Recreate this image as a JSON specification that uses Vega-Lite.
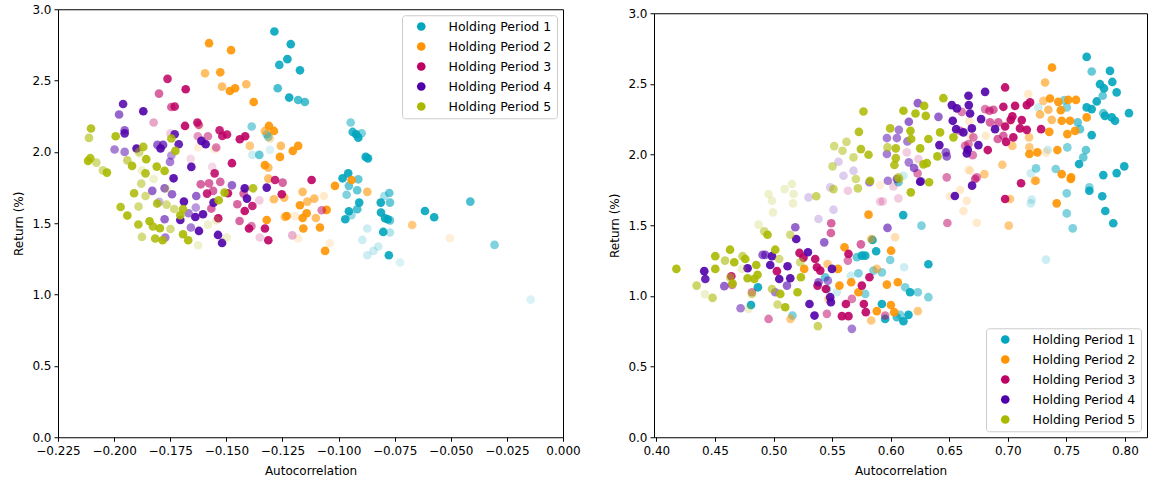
{
  "$schema": "https://vega.github.io/schema/vega-lite/v6.json",
  "background": "white",
  "padding": {"left": 12, "top": 2, "right": 5, "bottom": 5},
  "spacing": 27,
  "center": true,
  "config": {
    "font": "DejaVu Sans",
    "view": {"stroke": "#000", "strokeWidth": 1},
    "axis": {
      "grid": false, "domain": false, "tickColor": "#000", "tickSize": 4,
      "labelFont": "DejaVu Sans", "labelFontSize": 12, "labelColor": "#000", "labelPadding": 3,
      "labelFlush": false, "labelOverlap": false,
      "titleFont": "DejaVu Sans", "titleFontSize": 12, "titleFontWeight": "normal", "titleColor": "#000", "titlePadding": 6
    },
    "axisX": {"labelPadding": 4, "titlePadding": 9},
    "legend": {
      "title": null, "symbolType": "circle", "symbolSize": 75, "symbolOpacity": 1, "symbolStrokeWidth": 0,
      "labelFont": "DejaVu Sans", "labelFontSize": 12.5, "labelColor": "#000",
      "padding": 5, "rowPadding": 7, "offset": 6, "symbolOffset": 8, "labelOffset": 21,
      "strokeColor": "#cccccc", "fillColor": "rgba(255,255,255,0.85)", "cornerRadius": 3
    }
  },
  "datasets": {
    "left": [
      {"h":1,"x":-0.1286,"y":2.844,"a":0.9},{"h":1,"x":-0.1213,"y":2.755,"a":0.9},{"h":1,"x":-0.1228,"y":2.65,"a":0.9},{"h":1,"x":-0.1264,"y":2.61,"a":0.85},{"h":1,"x":-0.1172,"y":2.572,"a":0.9},{"h":1,"x":-0.1271,"y":2.446,"a":0.7},{"h":1,"x":-0.122,"y":2.381,"a":0.9},{"h":1,"x":-0.118,"y":2.364,"a":0.7},{"h":1,"x":-0.115,"y":2.35,"a":0.7},{"h":1,"x":-0.0946,"y":2.206,"a":0.5},{"h":1,"x":-0.0937,"y":2.14,"a":0.8},{"h":1,"x":-0.0922,"y":2.124,"a":0.9},{"h":1,"x":-0.0912,"y":2.1,"a":0.9},{"h":1,"x":-0.0897,"y":2.131,"a":0.5},{"h":1,"x":-0.0879,"y":1.965,"a":0.9},{"h":1,"x":-0.0869,"y":1.955,"a":0.9},{"h":1,"x":-0.0982,"y":1.815,"a":0.9},{"h":1,"x":-0.0957,"y":1.85,"a":0.9},{"h":1,"x":-0.0912,"y":1.808,"a":0.6},{"h":1,"x":-0.0954,"y":1.762,"a":0.6},{"h":1,"x":-0.0964,"y":1.7,"a":0.5},{"h":1,"x":-0.0917,"y":1.731,"a":0.6},{"h":1,"x":-0.0908,"y":1.645,"a":0.9},{"h":1,"x":-0.0917,"y":1.598,"a":0.7},{"h":1,"x":-0.0954,"y":1.584,"a":0.9},{"h":1,"x":-0.097,"y":1.528,"a":0.9},{"h":1,"x":-0.0943,"y":1.556,"a":0.4},{"h":1,"x":-0.0812,"y":1.645,"a":0.9},{"h":1,"x":-0.0774,"y":1.712,"a":0.6},{"h":1,"x":-0.0771,"y":1.645,"a":0.6},{"h":1,"x":-0.0796,"y":1.691,"a":0.35},{"h":1,"x":-0.0811,"y":1.575,"a":0.9},{"h":1,"x":-0.0793,"y":1.535,"a":0.9},{"h":1,"x":-0.0781,"y":1.528,"a":0.9},{"h":1,"x":-0.0771,"y":1.52,"a":0.6},{"h":1,"x":-0.0801,"y":1.439,"a":0.9},{"h":1,"x":-0.0771,"y":1.435,"a":0.3},{"h":1,"x":-0.0872,"y":1.463,"a":0.2},{"h":1,"x":-0.0894,"y":1.383,"a":0.2},{"h":1,"x":-0.0872,"y":1.276,"a":0.2},{"h":1,"x":-0.0845,"y":1.306,"a":0.2},{"h":1,"x":-0.0823,"y":1.337,"a":0.2},{"h":1,"x":-0.0776,"y":1.276,"a":0.9},{"h":1,"x":-0.0726,"y":1.225,"a":0.15},{"h":1,"x":-0.0615,"y":1.586,"a":0.9},{"h":1,"x":-0.0574,"y":1.542,"a":0.9},{"h":1,"x":-0.0413,"y":1.652,"a":0.7},{"h":1,"x":-0.0305,"y":1.348,"a":0.5},{"h":1,"x":-0.0144,"y":0.965,"a":0.15},{"h":1,"x":-0.1387,"y":2.178,"a":0.5},{"h":1,"x":-0.132,"y":2.124,"a":0.5},{"h":1,"x":-0.1313,"y":2.105,"a":0.5},{"h":1,"x":-0.1384,"y":1.979,"a":0.2},{"h":1,"x":-0.1353,"y":1.979,"a":0.6},{"h":1,"x":-0.1306,"y":2.014,"a":0.15},
      {"h":2,"x":-0.1577,"y":2.762,"a":0.9},{"h":2,"x":-0.1479,"y":2.713,"a":0.9},{"h":2,"x":-0.1595,"y":2.551,"a":0.6},{"h":2,"x":-0.1527,"y":2.558,"a":0.85},{"h":2,"x":-0.1519,"y":2.458,"a":0.6},{"h":2,"x":-0.1484,"y":2.427,"a":0.9},{"h":2,"x":-0.1461,"y":2.446,"a":0.9},{"h":2,"x":-0.1411,"y":2.474,"a":0.6},{"h":2,"x":-0.1378,"y":2.35,"a":0.9},{"h":2,"x":-0.1395,"y":2.042,"a":0.5},{"h":2,"x":-0.1619,"y":2.182,"a":0.15},{"h":2,"x":-0.1626,"y":2.031,"a":0.15},{"h":2,"x":-0.1552,"y":2.019,"a":0.15},{"h":2,"x":-0.131,"y":2.182,"a":0.9},{"h":2,"x":-0.1328,"y":2.147,"a":0.6},{"h":2,"x":-0.1288,"y":2.147,"a":0.9},{"h":2,"x":-0.1306,"y":2.094,"a":0.3},{"h":2,"x":-0.1257,"y":2.042,"a":0.6},{"h":2,"x":-0.1204,"y":2.007,"a":0.9},{"h":2,"x":-0.118,"y":2.042,"a":0.9},{"h":2,"x":-0.1261,"y":1.965,"a":0.9},{"h":2,"x":-0.1328,"y":1.907,"a":0.9},{"h":2,"x":-0.1313,"y":1.89,"a":0.6},{"h":2,"x":-0.1313,"y":1.813,"a":0.6},{"h":2,"x":-0.0942,"y":1.803,"a":0.9},{"h":2,"x":-0.1016,"y":1.762,"a":0.9},{"h":2,"x":-0.0872,"y":1.72,"a":0.6},{"h":2,"x":-0.116,"y":1.72,"a":0.6},{"h":2,"x":-0.1288,"y":1.668,"a":0.6},{"h":2,"x":-0.1242,"y":1.68,"a":0.6},{"h":2,"x":-0.1108,"y":1.673,"a":0.6},{"h":2,"x":-0.1066,"y":1.691,"a":0.2},{"h":2,"x":-0.1139,"y":1.652,"a":0.6},{"h":2,"x":-0.1172,"y":1.626,"a":0.9},{"h":2,"x":-0.1053,"y":1.594,"a":0.9},{"h":2,"x":-0.1142,"y":1.57,"a":0.9},{"h":2,"x":-0.1231,"y":1.551,"a":0.9},{"h":2,"x":-0.116,"y":1.537,"a":0.9},{"h":2,"x":-0.1101,"y":1.537,"a":0.6},{"h":2,"x":-0.1239,"y":1.545,"a":0.6},{"h":2,"x":-0.132,"y":1.523,"a":0.9},{"h":2,"x":-0.1194,"y":1.55,"a":0.15},{"h":2,"x":-0.1083,"y":1.47,"a":0.9},{"h":2,"x":-0.1157,"y":1.463,"a":0.9},{"h":2,"x":-0.1039,"y":1.36,"a":0.15},{"h":2,"x":-0.106,"y":1.306,"a":0.9},{"h":2,"x":-0.118,"y":1.393,"a":0.15},{"h":2,"x":-0.0672,"y":1.488,"a":0.5},{"h":2,"x":-0.0504,"y":1.395,"a":0.15},
      {"h":3,"x":-0.1762,"y":2.512,"a":0.85},{"h":3,"x":-0.1681,"y":2.439,"a":0.9},{"h":3,"x":-0.18,"y":2.409,"a":0.6},{"h":3,"x":-0.1745,"y":2.315,"a":0.6},{"h":3,"x":-0.173,"y":2.318,"a":0.85},{"h":3,"x":-0.1824,"y":2.206,"a":0.35},{"h":3,"x":-0.1684,"y":2.182,"a":0.9},{"h":3,"x":-0.1629,"y":2.206,"a":0.85},{"h":3,"x":-0.1623,"y":2.19,"a":0.6},{"h":3,"x":-0.153,"y":2.152,"a":0.85},{"h":3,"x":-0.1518,"y":2.112,"a":0.85},{"h":3,"x":-0.1497,"y":2.122,"a":0.85},{"h":3,"x":-0.144,"y":2.089,"a":0.9},{"h":3,"x":-0.1416,"y":2.11,"a":0.9},{"h":3,"x":-0.1582,"y":2.11,"a":0.5},{"h":3,"x":-0.1627,"y":2.11,"a":0.4},{"h":3,"x":-0.1545,"y":2.031,"a":0.5},{"h":3,"x":-0.1749,"y":2.13,"a":0.2},{"h":3,"x":-0.1475,"y":1.921,"a":0.9},{"h":3,"x":-0.1552,"y":1.85,"a":0.85},{"h":3,"x":-0.1563,"y":1.895,"a":0.15},{"h":3,"x":-0.1614,"y":1.773,"a":0.6},{"h":3,"x":-0.1577,"y":1.78,"a":0.6},{"h":3,"x":-0.1527,"y":1.79,"a":0.6},{"h":3,"x":-0.1559,"y":1.727,"a":0.6},{"h":3,"x":-0.1586,"y":1.708,"a":0.85},{"h":3,"x":-0.1493,"y":1.71,"a":0.9},{"h":3,"x":-0.1423,"y":1.708,"a":0.6},{"h":3,"x":-0.1567,"y":1.603,"a":0.6},{"h":3,"x":-0.1536,"y":1.535,"a":0.9},{"h":3,"x":-0.1451,"y":1.633,"a":0.6},{"h":3,"x":-0.1441,"y":1.516,"a":0.6},{"h":3,"x":-0.1418,"y":1.586,"a":0.9},{"h":3,"x":-0.1399,"y":1.463,"a":0.9},{"h":3,"x":-0.1384,"y":1.621,"a":0.85},{"h":3,"x":-0.1659,"y":1.951,"a":0.15},{"h":3,"x":-0.1388,"y":1.48,"a":0.5},{"h":3,"x":-0.1283,"y":1.803,"a":0.85},{"h":3,"x":-0.1249,"y":1.785,"a":0.6},{"h":3,"x":-0.112,"y":1.803,"a":0.9},{"h":3,"x":-0.1253,"y":1.703,"a":0.9},{"h":3,"x":-0.1328,"y":1.463,"a":0.9},{"h":3,"x":-0.1313,"y":1.381,"a":0.9},{"h":3,"x":-0.1075,"y":1.591,"a":0.5},{"h":3,"x":-0.1351,"y":1.4,"a":0.2},{"h":3,"x":-0.1206,"y":1.415,"a":0.3},{"h":3,"x":-0.1353,"y":1.66,"a":0.2},
      {"h":4,"x":-0.196,"y":2.336,"a":0.85},{"h":4,"x":-0.1978,"y":2.262,"a":0.6},{"h":4,"x":-0.187,"y":2.285,"a":0.9},{"h":4,"x":-0.1953,"y":2.152,"a":0.6},{"h":4,"x":-0.1953,"y":2.13,"a":0.85},{"h":4,"x":-0.173,"y":2.124,"a":0.85},{"h":4,"x":-0.19,"y":2.024,"a":0.9},{"h":4,"x":-0.1782,"y":2.049,"a":0.7},{"h":4,"x":-0.1807,"y":2.049,"a":0.6},{"h":4,"x":-0.1793,"y":2.024,"a":0.9},{"h":4,"x":-0.1712,"y":2.054,"a":0.85},{"h":4,"x":-0.1611,"y":2.077,"a":0.9},{"h":4,"x":-0.1592,"y":2.054,"a":0.9},{"h":4,"x":-0.1998,"y":2.017,"a":0.5},{"h":4,"x":-0.1953,"y":2.0,"a":0.5},{"h":4,"x":-0.1745,"y":1.975,"a":0.4},{"h":4,"x":-0.1656,"y":1.895,"a":0.9},{"h":4,"x":-0.1735,"y":1.815,"a":0.9},{"h":4,"x":-0.1751,"y":1.93,"a":0.5},{"h":4,"x":-0.183,"y":1.727,"a":0.6},{"h":4,"x":-0.1775,"y":1.745,"a":0.6},{"h":4,"x":-0.1742,"y":1.703,"a":0.6},{"h":4,"x":-0.1689,"y":1.652,"a":0.9},{"h":4,"x":-0.1634,"y":1.691,"a":0.6},{"h":4,"x":-0.1775,"y":1.528,"a":0.6},{"h":4,"x":-0.1705,"y":1.523,"a":0.9},{"h":4,"x":-0.1668,"y":1.57,"a":0.5},{"h":4,"x":-0.1604,"y":1.563,"a":0.9},{"h":4,"x":-0.1638,"y":1.544,"a":0.9},{"h":4,"x":-0.1658,"y":1.47,"a":0.5},{"h":4,"x":-0.1622,"y":1.446,"a":0.9},{"h":4,"x":-0.1537,"y":1.418,"a":0.9},{"h":4,"x":-0.1519,"y":1.362,"a":0.9},{"h":4,"x":-0.1799,"y":1.65,"a":0.3},{"h":4,"x":-0.1475,"y":1.766,"a":0.6},{"h":4,"x":-0.1418,"y":1.745,"a":0.9},{"h":4,"x":-0.1408,"y":1.673,"a":0.9},{"h":4,"x":-0.1557,"y":1.645,"a":0.9},{"h":4,"x":-0.1772,"y":1.4,"a":0.5},{"h":4,"x":-0.1636,"y":1.61,"a":0.4},{"h":4,"x":-0.132,"y":1.75,"a":0.9},
      {"h":5,"x":-0.2103,"y":2.164,"a":0.85},{"h":5,"x":-0.2112,"y":2.098,"a":0.6},{"h":5,"x":-0.1993,"y":2.11,"a":0.9},{"h":5,"x":-0.1745,"y":2.094,"a":0.85},{"h":5,"x":-0.1727,"y":2.007,"a":0.9},{"h":5,"x":-0.187,"y":2.035,"a":0.85},{"h":5,"x":-0.1887,"y":1.99,"a":0.2},{"h":5,"x":-0.1889,"y":2.0,"a":0.4},{"h":5,"x":-0.2106,"y":1.956,"a":0.85},{"h":5,"x":-0.2116,"y":1.937,"a":0.9},{"h":5,"x":-0.2079,"y":1.925,"a":0.5},{"h":5,"x":-0.205,"y":1.871,"a":0.5},{"h":5,"x":-0.2032,"y":1.855,"a":0.9},{"h":5,"x":-0.1941,"y":1.941,"a":0.6},{"h":5,"x":-0.192,"y":1.902,"a":0.9},{"h":5,"x":-0.1857,"y":1.949,"a":0.9},{"h":5,"x":-0.186,"y":1.85,"a":0.85},{"h":5,"x":-0.181,"y":1.897,"a":0.9},{"h":5,"x":-0.1775,"y":1.867,"a":0.9},{"h":5,"x":-0.1879,"y":1.778,"a":0.5},{"h":5,"x":-0.1911,"y":1.71,"a":0.85},{"h":5,"x":-0.186,"y":1.691,"a":0.5},{"h":5,"x":-0.1808,"y":1.638,"a":0.85},{"h":5,"x":-0.1971,"y":1.614,"a":0.85},{"h":5,"x":-0.1891,"y":1.617,"a":0.5},{"h":5,"x":-0.1941,"y":1.554,"a":0.9},{"h":5,"x":-0.1842,"y":1.514,"a":0.9},{"h":5,"x":-0.1892,"y":1.491,"a":0.85},{"h":5,"x":-0.1827,"y":1.477,"a":0.85},{"h":5,"x":-0.1796,"y":1.465,"a":0.9},{"h":5,"x":-0.1749,"y":1.46,"a":0.5},{"h":5,"x":-0.1876,"y":1.404,"a":0.5},{"h":5,"x":-0.1817,"y":1.393,"a":0.85},{"h":5,"x":-0.1784,"y":1.381,"a":0.9},{"h":5,"x":-0.1693,"y":1.423,"a":0.9},{"h":5,"x":-0.167,"y":1.381,"a":0.9},{"h":5,"x":-0.1626,"y":1.346,"a":0.2},{"h":5,"x":-0.1766,"y":1.63,"a":0.5},{"h":5,"x":-0.1732,"y":1.6,"a":0.5},{"h":5,"x":-0.1705,"y":1.556,"a":0.9},{"h":5,"x":-0.1693,"y":1.6,"a":0.85},{"h":5,"x":-0.1534,"y":1.661,"a":0.9},{"h":5,"x":-0.1508,"y":1.715,"a":0.9},{"h":5,"x":-0.1381,"y":1.745,"a":0.85},{"h":5,"x":-0.1544,"y":1.52,"a":0.2},{"h":5,"x":-0.1499,"y":1.4,"a":0.2},{"h":5,"x":-0.1582,"y":1.49,"a":0.2},{"h":5,"x":-0.1824,"y":1.81,"a":0.2},{"h":5,"x":-0.1766,"y":1.74,"a":0.2},{"h":5,"x":-0.1876,"y":1.87,"a":0.2}
    ],
    "right": [
      {"h":1,"x":0.4808,"y":0.936,"a":0.9},{"h":1,"x":0.4867,"y":1.061,"a":0.9},{"h":1,"x":0.5162,"y":0.861,"a":0.5},{"h":1,"x":0.5441,"y":1.132,"a":0.6},{"h":1,"x":0.5456,"y":1.049,"a":0.5},{"h":1,"x":0.5725,"y":1.16,"a":0.5},{"h":1,"x":0.5754,"y":1.285,"a":0.9},{"h":1,"x":0.5783,"y":1.285,"a":0.9},{"h":1,"x":0.5712,"y":1.274,"a":0.6},{"h":1,"x":0.5876,"y":1.316,"a":0.9},{"h":1,"x":0.5845,"y":1.396,"a":0.9},{"h":1,"x":0.5996,"y":1.254,"a":0.5},{"h":1,"x":0.6107,"y":1.572,"a":0.9},{"h":1,"x":0.5853,"y":1.179,"a":0.5},{"h":1,"x":0.5925,"y":1.167,"a":0.5},{"h":1,"x":0.5783,"y":1.014,"a":0.5},{"h":1,"x":0.5925,"y":0.943,"a":0.9},{"h":1,"x":0.5953,"y":0.837,"a":0.9},{"h":1,"x":0.6053,"y":0.849,"a":0.7},{"h":1,"x":0.566,"y":1.143,"a":0.2},{"h":1,"x":0.5541,"y":1.026,"a":0.2},{"h":1,"x":0.6263,"y":1.497,"a":0.5},{"h":1,"x":0.6322,"y":1.224,"a":0.9},{"h":1,"x":0.6322,"y":0.991,"a":0.5},{"h":1,"x":0.6166,"y":1.026,"a":0.9},{"h":1,"x":0.6232,"y":1.026,"a":0.5},{"h":1,"x":0.6124,"y":1.061,"a":0.5},{"h":1,"x":0.6152,"y":0.866,"a":0.9},{"h":1,"x":0.6109,"y":0.821,"a":0.9},{"h":1,"x":0.6081,"y":0.866,"a":0.5},{"h":1,"x":0.6115,"y":1.203,"a":0.2},{"h":1,"x":0.7503,"y":1.726,"a":0.5},{"h":1,"x":0.7696,"y":1.744,"a":0.9},{"h":1,"x":0.7806,"y":1.705,"a":0.9},{"h":1,"x":0.7503,"y":1.584,"a":0.5},{"h":1,"x":0.7554,"y":1.478,"a":0.5},{"h":1,"x":0.7832,"y":1.601,"a":0.9},{"h":1,"x":0.79,"y":1.514,"a":0.9},{"h":1,"x":0.7326,"y":1.257,"a":0.2},{"h":1,"x":0.7204,"y":1.681,"a":0.2},{"h":1,"x":0.7196,"y":1.655,"a":0.2},{"h":1,"x":0.6066,"y":1.804,"a":0.6},{"h":1,"x":0.7673,"y":2.691,"a":0.9},{"h":1,"x":0.7716,"y":2.588,"a":0.6},{"h":1,"x":0.7872,"y":2.592,"a":0.9},{"h":1,"x":0.7892,"y":2.514,"a":0.9},{"h":1,"x":0.7787,"y":2.498,"a":0.9},{"h":1,"x":0.7821,"y":2.468,"a":0.9},{"h":1,"x":0.7929,"y":2.44,"a":0.9},{"h":1,"x":0.7759,"y":2.376,"a":0.9},{"h":1,"x":0.781,"y":2.416,"a":0.6},{"h":1,"x":0.7716,"y":2.322,"a":0.9},{"h":1,"x":0.7673,"y":2.334,"a":0.9},{"h":1,"x":0.7829,"y":2.274,"a":0.9},{"h":1,"x":0.7887,"y":2.263,"a":0.9},{"h":1,"x":0.7915,"y":2.239,"a":0.9},{"h":1,"x":0.7815,"y":2.293,"a":0.6},{"h":1,"x":0.8034,"y":2.293,"a":0.9},{"h":1,"x":0.7597,"y":2.228,"a":0.6},{"h":1,"x":0.7616,"y":2.18,"a":0.6},{"h":1,"x":0.7482,"y":2.385,"a":0.5},{"h":1,"x":0.7503,"y":2.334,"a":0.5},{"h":1,"x":0.7261,"y":2.334,"a":0.2},{"h":1,"x":0.7716,"y":2.138,"a":0.9},{"h":1,"x":0.7667,"y":2.032,"a":0.6},{"h":1,"x":0.7644,"y":1.98,"a":0.6},{"h":1,"x":0.7608,"y":1.933,"a":0.9},{"h":1,"x":0.7508,"y":2.051,"a":0.5},{"h":1,"x":0.7815,"y":1.855,"a":0.9},{"h":1,"x":0.7929,"y":1.869,"a":0.9},{"h":1,"x":0.7994,"y":1.917,"a":0.9},{"h":1,"x":0.7409,"y":1.898,"a":0.5},{"h":1,"x":0.7241,"y":1.902,"a":0.5},{"h":1,"x":0.7196,"y":1.867,"a":0.2},{"h":1,"x":0.7341,"y":2.034,"a":0.2},{"h":1,"x":0.7696,"y":1.768,"a":0.5},{"h":1,"x":0.6109,"y":1.85,"a":0.2},
      {"h":2,"x":0.5262,"y":1.191,"a":0.9},{"h":2,"x":0.5461,"y":1.226,"a":0.5},{"h":2,"x":0.555,"y":1.191,"a":0.9},{"h":2,"x":0.5606,"y":1.344,"a":0.9},{"h":2,"x":0.5563,"y":1.073,"a":0.9},{"h":2,"x":0.5663,"y":1.097,"a":0.9},{"h":2,"x":0.5725,"y":1.026,"a":0.9},{"h":2,"x":0.5811,"y":1.575,"a":0.9},{"h":2,"x":0.5834,"y":1.403,"a":0.5},{"h":2,"x":0.6004,"y":1.32,"a":0.9},{"h":2,"x":0.5968,"y":1.08,"a":0.9},{"h":2,"x":0.6002,"y":0.936,"a":0.9},{"h":2,"x":0.5834,"y":0.826,"a":0.5},{"h":2,"x":0.5882,"y":0.892,"a":0.9},{"h":2,"x":0.6038,"y":1.415,"a":0.3},{"h":2,"x":0.603,"y":0.885,"a":0.9},{"h":2,"x":0.5145,"y":0.837,"a":0.5},{"h":2,"x":0.547,"y":0.979,"a":0.5},{"h":2,"x":0.5882,"y":1.191,"a":0.5},{"h":2,"x":0.7232,"y":1.815,"a":0.6},{"h":2,"x":0.7537,"y":1.827,"a":0.9},{"h":2,"x":0.7417,"y":1.655,"a":0.9},{"h":2,"x":0.7008,"y":1.497,"a":0.5},{"h":2,"x":0.7019,"y":1.686,"a":0.5},{"h":2,"x":0.6061,"y":1.097,"a":0.9},{"h":2,"x":0.6232,"y":0.892,"a":0.5},{"h":2,"x":0.6593,"y":1.749,"a":0.2},{"h":2,"x":0.665,"y":1.673,"a":0.2},{"h":2,"x":0.6621,"y":1.601,"a":0.2},{"h":2,"x":0.6735,"y":1.518,"a":0.2},{"h":2,"x":0.6507,"y":1.705,"a":0.2},{"h":2,"x":0.7377,"y":2.616,"a":0.9},{"h":2,"x":0.7318,"y":2.51,"a":0.6},{"h":2,"x":0.736,"y":2.397,"a":0.9},{"h":2,"x":0.7431,"y":2.373,"a":0.9},{"h":2,"x":0.7516,"y":2.387,"a":0.9},{"h":2,"x":0.7582,"y":2.387,"a":0.9},{"h":2,"x":0.7452,"y":2.314,"a":0.9},{"h":2,"x":0.7303,"y":2.38,"a":0.5},{"h":2,"x":0.7346,"y":2.317,"a":0.6},{"h":2,"x":0.7275,"y":2.284,"a":0.6},{"h":2,"x":0.746,"y":2.239,"a":0.9},{"h":2,"x":0.7531,"y":2.239,"a":0.9},{"h":2,"x":0.7375,"y":2.246,"a":0.6},{"h":2,"x":0.7574,"y":2.168,"a":0.9},{"h":2,"x":0.7508,"y":2.145,"a":0.9},{"h":2,"x":0.7354,"y":2.161,"a":0.9},{"h":2,"x":0.7673,"y":2.263,"a":0.9},{"h":2,"x":0.7181,"y":2.122,"a":0.5},{"h":2,"x":0.7423,"y":2.032,"a":0.9},{"h":2,"x":0.7252,"y":2.016,"a":0.9},{"h":2,"x":0.7184,"y":2.004,"a":0.9},{"h":2,"x":0.7184,"y":2.051,"a":0.5},{"h":2,"x":0.7326,"y":2.016,"a":0.2},{"h":2,"x":0.6953,"y":1.928,"a":0.5},{"h":2,"x":0.746,"y":1.862,"a":0.9},{"h":2,"x":0.754,"y":1.839,"a":0.9},{"h":2,"x":0.7241,"y":1.815,"a":0.5},{"h":2,"x":0.68,"y":1.862,"a":0.5},{"h":2,"x":0.7039,"y":2.062,"a":0.5},{"h":2,"x":0.7175,"y":2.428,"a":0.2},{"h":2,"x":0.7019,"y":2.239,"a":0.2},{"h":2,"x":0.667,"y":2.235,"a":0.2},{"h":2,"x":0.6812,"y":2.133,"a":0.2},{"h":2,"x":0.6678,"y":1.886,"a":0.2},{"h":2,"x":0.591,"y":1.784,"a":0.15},{"h":2,"x":0.6664,"y":1.893,"a":0.15},{"h":2,"x":0.6678,"y":2.133,"a":0.15},
      {"h":3,"x":0.464,"y":1.139,"a":0.85},{"h":3,"x":0.4646,"y":1.078,"a":0.5},{"h":3,"x":0.4816,"y":1.026,"a":0.5},{"h":3,"x":0.5029,"y":1.175,"a":0.9},{"h":3,"x":0.5222,"y":1.304,"a":0.9},{"h":3,"x":0.5256,"y":1.271,"a":0.9},{"h":3,"x":0.5356,"y":1.261,"a":0.9},{"h":3,"x":0.5399,"y":1.179,"a":0.9},{"h":3,"x":0.5376,"y":1.073,"a":0.9},{"h":3,"x":0.5447,"y":1.049,"a":0.9},{"h":3,"x":0.5493,"y":1.514,"a":0.6},{"h":3,"x":0.549,"y":1.445,"a":0.6},{"h":3,"x":0.564,"y":1.297,"a":0.9},{"h":3,"x":0.5635,"y":1.25,"a":0.5},{"h":3,"x":0.5754,"y":1.073,"a":0.9},{"h":3,"x":0.5819,"y":1.132,"a":0.9},{"h":3,"x":0.5771,"y":0.943,"a":0.9},{"h":3,"x":0.5788,"y":0.885,"a":0.9},{"h":3,"x":0.5618,"y":0.943,"a":0.9},{"h":3,"x":0.5584,"y":0.857,"a":0.9},{"h":3,"x":0.564,"y":0.857,"a":0.9},{"h":3,"x":0.5456,"y":0.873,"a":0.5},{"h":3,"x":0.4958,"y":0.837,"a":0.5},{"h":3,"x":0.5371,"y":1.203,"a":0.9},{"h":3,"x":0.5635,"y":1.744,"a":0.2},{"h":3,"x":0.5746,"y":1.365,"a":0.6},{"h":3,"x":0.5669,"y":0.979,"a":0.5},{"h":3,"x":0.5933,"y":1.669,"a":0.2},{"h":3,"x":0.6977,"y":1.686,"a":0.9},{"h":3,"x":0.7113,"y":1.797,"a":0.9},{"h":3,"x":0.6484,"y":1.516,"a":0.5},{"h":3,"x":0.6721,"y":1.827,"a":0.6},{"h":3,"x":0.6066,"y":1.69,"a":0.2},{"h":3,"x":0.591,"y":1.667,"a":0.2},{"h":3,"x":0.6024,"y":1.775,"a":0.2},{"h":3,"x":0.5953,"y":0.861,"a":0.5},{"h":3,"x":0.6607,"y":2.302,"a":0.5},{"h":3,"x":0.6664,"y":2.074,"a":0.5},{"h":3,"x":0.6706,"y":2.122,"a":0.5},{"h":3,"x":0.6701,"y":1.996,"a":0.5},{"h":3,"x":0.623,"y":1.867,"a":0.5},{"h":3,"x":0.6479,"y":1.839,"a":0.5},{"h":3,"x":0.6735,"y":1.839,"a":0.5},{"h":3,"x":0.6237,"y":1.968,"a":0.2},{"h":3,"x":0.6138,"y":2.016,"a":0.2},{"h":3,"x":0.6977,"y":2.475,"a":0.9},{"h":3,"x":0.719,"y":2.369,"a":0.9},{"h":3,"x":0.7162,"y":2.35,"a":0.9},{"h":3,"x":0.7062,"y":2.345,"a":0.9},{"h":3,"x":0.6962,"y":2.338,"a":0.9},{"h":3,"x":0.6877,"y":2.317,"a":0.6},{"h":3,"x":0.6843,"y":2.31,"a":0.6},{"h":3,"x":0.7039,"y":2.27,"a":0.9},{"h":3,"x":0.7025,"y":2.246,"a":0.9},{"h":3,"x":0.7119,"y":2.244,"a":0.9},{"h":3,"x":0.7104,"y":2.185,"a":0.9},{"h":3,"x":0.7162,"y":2.175,"a":0.9},{"h":3,"x":0.6977,"y":2.199,"a":0.9},{"h":3,"x":0.7284,"y":2.18,"a":0.9},{"h":3,"x":0.7047,"y":2.122,"a":0.9},{"h":3,"x":0.6962,"y":2.133,"a":0.6},{"h":3,"x":0.6914,"y":2.11,"a":0.6},{"h":3,"x":0.6919,"y":2.228,"a":0.6},{"h":3,"x":0.6848,"y":2.228,"a":0.6},{"h":3,"x":0.6829,"y":2.032,"a":0.9},{"h":3,"x":0.6635,"y":2.062,"a":0.5},{"h":3,"x":0.6593,"y":2.168,"a":0.5},{"h":3,"x":0.6806,"y":2.322,"a":0.5},{"h":3,"x":0.6985,"y":2.09,"a":0.9},
      {"h":4,"x":0.4409,"y":1.175,"a":0.9},{"h":4,"x":0.4418,"y":1.12,"a":0.85},{"h":4,"x":0.458,"y":1.069,"a":0.6},{"h":4,"x":0.4779,"y":1.196,"a":0.9},{"h":4,"x":0.4907,"y":1.29,"a":0.6},{"h":4,"x":0.493,"y":1.29,"a":0.6},{"h":4,"x":0.4972,"y":1.219,"a":0.9},{"h":4,"x":0.4987,"y":1.281,"a":0.9},{"h":4,"x":0.5049,"y":1.12,"a":0.9},{"h":4,"x":0.512,"y":1.21,"a":0.9},{"h":4,"x":0.5143,"y":1.125,"a":0.9},{"h":4,"x":0.5115,"y":1.073,"a":0.6},{"h":4,"x":0.5186,"y":1.486,"a":0.6},{"h":4,"x":0.5194,"y":1.403,"a":0.9},{"h":4,"x":0.5294,"y":1.309,"a":0.9},{"h":4,"x":0.5015,"y":1.026,"a":0.5},{"h":4,"x":0.5307,"y":0.943,"a":0.9},{"h":4,"x":0.535,"y":0.861,"a":0.9},{"h":4,"x":0.5384,"y":1.097,"a":0.6},{"h":4,"x":0.5433,"y":1.379,"a":0.6},{"h":4,"x":0.5484,"y":0.991,"a":0.9},{"h":4,"x":0.549,"y":0.955,"a":0.9},{"h":4,"x":0.5499,"y":1.191,"a":0.9},{"h":4,"x":0.5464,"y":1.108,"a":0.5},{"h":4,"x":0.5384,"y":1.544,"a":0.2},{"h":4,"x":0.5512,"y":1.61,"a":0.2},{"h":4,"x":0.5299,"y":1.697,"a":0.2},{"h":4,"x":0.4719,"y":0.913,"a":0.5},{"h":4,"x":0.5669,"y":0.767,"a":0.5},{"h":4,"x":0.5973,"y":1.481,"a":0.6},{"h":4,"x":0.6053,"y":1.827,"a":0.6},{"h":4,"x":0.6548,"y":1.707,"a":0.9},{"h":4,"x":0.6695,"y":1.78,"a":0.9},{"h":4,"x":0.6258,"y":1.811,"a":0.6},{"h":4,"x":0.6232,"y":2.364,"a":0.6},{"h":4,"x":0.6155,"y":2.232,"a":0.6},{"h":4,"x":0.607,"y":2.175,"a":0.5},{"h":4,"x":0.5968,"y":2.117,"a":0.5},{"h":4,"x":0.6053,"y":2.117,"a":0.5},{"h":4,"x":0.6143,"y":2.093,"a":0.5},{"h":4,"x":0.5968,"y":2.004,"a":0.5},{"h":4,"x":0.6155,"y":1.945,"a":0.5},{"h":4,"x":0.62,"y":1.905,"a":0.6},{"h":4,"x":0.6408,"y":2.267,"a":0.6},{"h":4,"x":0.6522,"y":2.35,"a":0.9},{"h":4,"x":0.6664,"y":2.416,"a":0.9},{"h":4,"x":0.6565,"y":2.327,"a":0.9},{"h":4,"x":0.6667,"y":2.35,"a":0.9},{"h":4,"x":0.653,"y":2.239,"a":0.9},{"h":4,"x":0.6559,"y":2.18,"a":0.9},{"h":4,"x":0.6621,"y":2.157,"a":0.9},{"h":4,"x":0.6693,"y":2.185,"a":0.9},{"h":4,"x":0.6416,"y":2.067,"a":0.9},{"h":4,"x":0.6471,"y":2.016,"a":0.6},{"h":4,"x":0.6658,"y":2.034,"a":0.9},{"h":4,"x":0.665,"y":2.008,"a":0.9},{"h":4,"x":0.6479,"y":1.987,"a":0.6},{"h":4,"x":0.6749,"y":2.067,"a":0.9},{"h":4,"x":0.5976,"y":1.815,"a":0.5},{"h":4,"x":0.6252,"y":1.808,"a":0.9},{"h":4,"x":0.5819,"y":1.804,"a":0.5},{"h":4,"x":0.5597,"y":1.85,"a":0.2},{"h":4,"x":0.5683,"y":1.886,"a":0.2},{"h":4,"x":0.5555,"y":1.949,"a":0.2},{"h":4,"x":0.5484,"y":1.768,"a":0.2},{"h":4,"x":0.6806,"y":2.444,"a":0.9},{"h":4,"x":0.6678,"y":2.291,"a":0.9},{"h":4,"x":0.6772,"y":2.251,"a":0.9},{"h":4,"x":0.6891,"y":2.18,"a":0.9},
      {"h":5,"x":0.4171,"y":1.191,"a":0.9},{"h":5,"x":0.4344,"y":1.073,"a":0.6},{"h":5,"x":0.4415,"y":1.012,"a":0.2},{"h":5,"x":0.448,"y":0.986,"a":0.6},{"h":5,"x":0.4503,"y":1.281,"a":0.9},{"h":5,"x":0.4503,"y":1.191,"a":0.9},{"h":5,"x":0.4586,"y":1.25,"a":0.6},{"h":5,"x":0.4629,"y":1.327,"a":0.9},{"h":5,"x":0.4665,"y":1.238,"a":0.9},{"h":5,"x":0.4631,"y":1.129,"a":0.5},{"h":5,"x":0.4651,"y":1.087,"a":0.9},{"h":5,"x":0.4736,"y":1.281,"a":0.6},{"h":5,"x":0.4759,"y":1.261,"a":0.9},{"h":5,"x":0.4779,"y":1.125,"a":0.9},{"h":5,"x":0.4836,"y":1.12,"a":0.9},{"h":5,"x":0.4853,"y":1.219,"a":0.9},{"h":5,"x":0.4864,"y":1.15,"a":0.9},{"h":5,"x":0.4731,"y":1.191,"a":0.2},{"h":5,"x":0.4816,"y":1.014,"a":0.5},{"h":5,"x":0.4949,"y":1.433,"a":0.9},{"h":5,"x":0.4921,"y":1.457,"a":0.5},{"h":5,"x":0.5015,"y":1.327,"a":0.9},{"h":5,"x":0.5049,"y":1.261,"a":0.5},{"h":5,"x":0.4987,"y":1.049,"a":0.6},{"h":5,"x":0.5058,"y":1.014,"a":0.9},{"h":5,"x":0.51,"y":0.92,"a":0.9},{"h":5,"x":0.5035,"y":0.939,"a":0.5},{"h":5,"x":0.5205,"y":1.026,"a":0.9},{"h":5,"x":0.5234,"y":1.132,"a":0.9},{"h":5,"x":0.5228,"y":1.238,"a":0.5},{"h":5,"x":0.5143,"y":1.433,"a":0.5},{"h":5,"x":0.5379,"y":0.786,"a":0.6},{"h":5,"x":0.4958,"y":1.721,"a":0.2},{"h":5,"x":0.4987,"y":1.673,"a":0.2},{"h":5,"x":0.4995,"y":1.591,"a":0.2},{"h":5,"x":0.4873,"y":1.504,"a":0.2},{"h":5,"x":0.5094,"y":1.756,"a":0.2},{"h":5,"x":0.5157,"y":1.792,"a":0.2},{"h":5,"x":0.5171,"y":1.721,"a":0.2},{"h":5,"x":0.5166,"y":1.655,"a":0.2},{"h":5,"x":0.5365,"y":1.705,"a":0.6},{"h":5,"x":0.5512,"y":1.756,"a":0.6},{"h":5,"x":0.572,"y":1.761,"a":0.6},{"h":5,"x":0.4787,"y":0.908,"a":0.2},{"h":5,"x":0.6172,"y":1.733,"a":0.9},{"h":5,"x":0.6328,"y":1.804,"a":0.9},{"h":5,"x":0.6072,"y":1.827,"a":0.6},{"h":5,"x":0.5768,"y":2.305,"a":0.85},{"h":5,"x":0.5729,"y":2.161,"a":0.85},{"h":5,"x":0.5623,"y":2.09,"a":0.5},{"h":5,"x":0.5518,"y":2.06,"a":0.5},{"h":5,"x":0.5589,"y":2.027,"a":0.5},{"h":5,"x":0.5746,"y":2.039,"a":0.85},{"h":5,"x":0.5811,"y":1.999,"a":0.85},{"h":5,"x":0.5683,"y":1.98,"a":0.5},{"h":5,"x":0.5504,"y":1.917,"a":0.5},{"h":5,"x":0.5703,"y":1.827,"a":0.5},{"h":5,"x":0.5825,"y":1.815,"a":0.85},{"h":5,"x":0.6109,"y":2.31,"a":0.9},{"h":5,"x":0.6212,"y":2.291,"a":0.9},{"h":5,"x":0.6286,"y":2.345,"a":0.9},{"h":5,"x":0.63,"y":2.274,"a":0.9},{"h":5,"x":0.645,"y":2.399,"a":0.9},{"h":5,"x":0.5996,"y":2.185,"a":0.85},{"h":5,"x":0.6169,"y":2.168,"a":0.9},{"h":5,"x":0.6175,"y":2.11,"a":0.9},{"h":5,"x":0.6322,"y":2.11,"a":0.9},{"h":5,"x":0.6422,"y":2.157,"a":0.9},{"h":5,"x":0.6536,"y":2.122,"a":0.9},{"h":5,"x":0.5973,"y":2.051,"a":0.6},{"h":5,"x":0.6044,"y":2.044,"a":0.85},{"h":5,"x":0.6252,"y":2.044,"a":0.9},{"h":5,"x":0.6044,"y":1.975,"a":0.85},{"h":5,"x":0.6032,"y":1.926,"a":0.85},{"h":5,"x":0.6309,"y":1.94,"a":0.9},{"h":5,"x":0.6399,"y":1.987,"a":0.9},{"h":5,"x":0.628,"y":1.931,"a":0.9},{"h":5,"x":0.6066,"y":1.839,"a":0.6}
    ]
  },
  "hconcat": [
    {
      "width": 505, "height": 428,
      "data": {"name": "left"},
      "mark": {"type": "point", "filled": true, "size": 75, "strokeWidth": 0},
      "encoding": {
        "x": {"field": "x", "type": "quantitative", "title": ["Autocorrelation", " "],
              "scale": {"domain": [-0.225, 0], "nice": false, "zero": false},
              "axis": {"values": [-0.225, -0.2, -0.175, -0.15, -0.125, -0.1, -0.075, -0.05, -0.025, 0], "format": ".3f", "titleLineHeight": 4, "titleBaseline": "top"}},
        "y": {"field": "y", "type": "quantitative", "title": "Return (%)",
              "scale": {"domain": [0, 3], "nice": false},
              "axis": {"values": [0, 0.5, 1, 1.5, 2, 2.5, 3], "format": ".1f"}},
        "color": {"field": "h", "type": "nominal",
                  "scale": {"domain": [1, 2, 3, 4, 5], "range": ["#00a5be", "#ff9400", "#be0064", "#5000aa", "#aab900"]},
                  "legend": {"orient": "top-right", "labelExpr": "'Holding Period ' + datum.label"}},
        "opacity": {"field": "a", "type": "quantitative", "scale": null}
      }
    },
    {
      "width": 493, "height": 424,
      "data": {"name": "right"},
      "mark": {"type": "point", "filled": true, "size": 75, "strokeWidth": 0},
      "encoding": {
        "x": {"field": "x", "type": "quantitative", "title": "Autocorrelation",
              "scale": {"domain": [0.398, 0.8188], "nice": false, "zero": false},
              "axis": {"values": [0.4, 0.45, 0.5, 0.55, 0.6, 0.65, 0.7, 0.75, 0.8], "format": ".2f", "titleBaseline": "top"}},
        "y": {"field": "y", "type": "quantitative", "title": "Return (%)",
              "scale": {"domain": [0, 3], "nice": false},
              "axis": {"values": [0, 0.5, 1, 1.5, 2, 2.5, 3], "format": ".1f"}},
        "color": {"field": "h", "type": "nominal",
                  "scale": {"domain": [1, 2, 3, 4, 5], "range": ["#00a5be", "#ff9400", "#be0064", "#5000aa", "#aab900"]},
                  "legend": {"orient": "bottom-right", "labelExpr": "'Holding Period ' + datum.label"}},
        "opacity": {"field": "a", "type": "quantitative", "scale": null}
      }
    }
  ],
  "resolve": {"legend": {"color": "independent"}, "scale": {"color": "independent", "x": "independent", "y": "independent"}}
}
